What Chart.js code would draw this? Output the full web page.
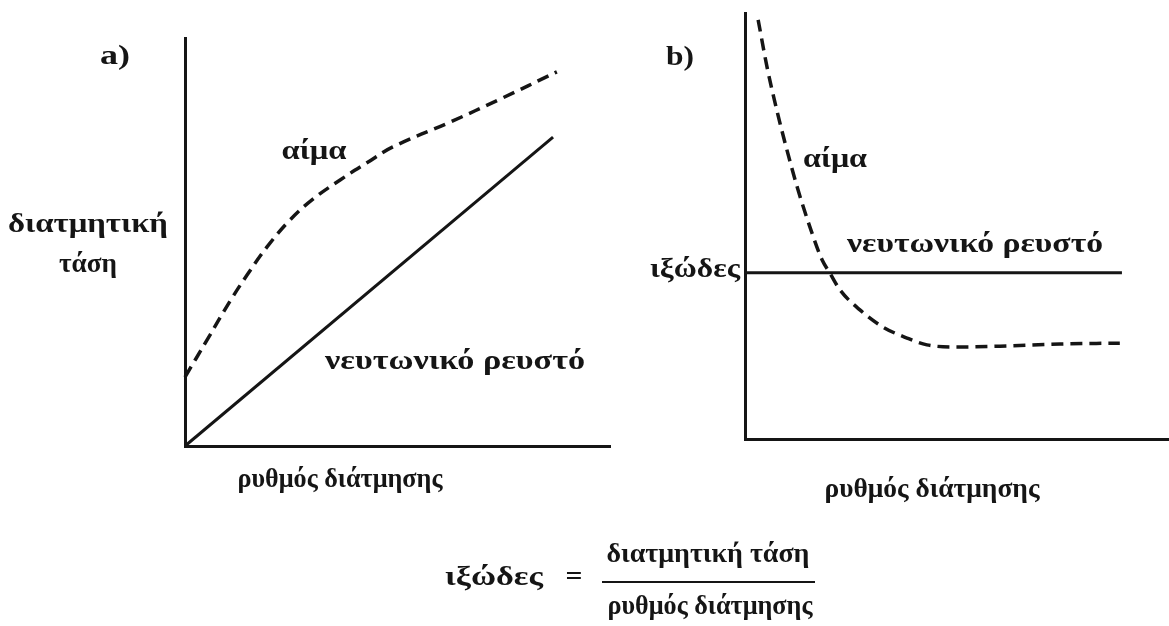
<!DOCTYPE html>
<html>
<head>
<meta charset="utf-8">
<script src="https://cdn.jsdelivr.net/npm/chart.js@4.4.1/dist/chart.umd.min.js"></script>
<style>
  html, body { margin: 0; padding: 0; background: #fff; }
  #wrap { position: relative; width: 1169px; height: 626px; }
  canvas { position: absolute; left: 0; top: 0; }
</style>
</head>
<body>
<div id="wrap">
  <canvas id="chartA" width="1169" height="626"></canvas>
  <canvas id="chartB" width="1169" height="626"></canvas>
</div>
<script>
// a) shear stress against shear rate (axis units 0..100)
const newtonA = [{x: 0, y: 0}, {x: 86.6, y: 75.7}];
const bloodA = [
    {x: 0, y: 16.9}, {x: 5.2, y: 26.0}, {x: 10.6, y: 35.5}, {x: 14.6, y: 41.9},
    {x: 19.3, y: 48.8}, {x: 24.7, y: 55.4}, {x: 30.1, y: 60.5}, {x: 36.5, y: 65.2},
    {x: 42.8, y: 69.4}, {x: 48.9, y: 73.3}, {x: 62.4, y: 79.4}, {x: 74.1, y: 85.0},
    {x: 87.5, y: 91.7}
];

// b) viscosity against shear rate
const newtonB = [{x: 0, y: 39}, {x: 88.9, y: 39}];
const bloodB = [
    {x: 3.1, y: 98.4}, {x: 5.2, y: 87.3}, {x: 7.5, y: 77.2}, {x: 9.9, y: 67.8},
    {x: 12.5, y: 58.5}, {x: 15.3, y: 49.8}, {x: 18.2, y: 42.0}, {x: 20.0, y: 39.0},
    {x: 22.4, y: 35.0}, {x: 27.1, y: 30.3}, {x: 32.5, y: 26.3}, {x: 38.2, y: 23.7},
    {x: 42.9, y: 22.1}, {x: 50.0, y: 21.6}, {x: 60.1, y: 21.8}, {x: 74.3, y: 22.3},
    {x: 88.4, y: 22.5}
];

const txtBlood = 'αίμα';
const txtNewton = 'νευτωνικό ρευστό';
const txtStress1 = 'διατμητική';
const txtStress2 = 'τάση';
const txtRate = 'ρυθμός διάτμησης';
const txtVisc = 'ιξώδες';

const ink = '#151515';

// draws bold serif text centred at cx,cy and stretched to width w
function fitText(ctx, text, cx, cy, w, size) {
    ctx.save();
    ctx.font = 'bold ' + size + 'px "Liberation Serif"';
    const m = ctx.measureText(text).width;
    ctx.translate(cx, cy);
    ctx.scale(w / m, 1);
    ctx.textAlign = 'center';
    ctx.textBaseline = 'middle';
    ctx.fillStyle = ink;
    ctx.fillText(text, 0, 0);
    ctx.restore();
}

function axisOpts() {
    return {
        type: 'linear',
        min: 0,
        max: 100,
        grid: { display: false, drawTicks: false },
        ticks: { display: false },
        border: { display: true, color: ink, width: 3 }
    };
}

function makeChart(id, newton, blood, mode, pad, drawLabels) {
    return new Chart(document.getElementById(id), {
        type: 'line',
        data: {
            datasets: [
                { data: newton, borderColor: ink, borderWidth: 3, pointRadius: 0, fill: false, clip: false },
                { data: blood, borderColor: ink, borderWidth: 3.5, borderDash: [12, 7], pointRadius: 0,
                  tension: 0.4, cubicInterpolationMode: mode, fill: false, clip: false }
            ]
        },
        options: {
            responsive: false,
            animation: false,
            events: [],
            layout: { padding: pad },
            plugins: { legend: { display: false }, tooltip: { enabled: false } },
            scales: { x: axisOpts(), y: axisOpts() }
        },
        plugins: [{ id: 'labels', afterDraw: function (chart) { drawLabels(chart.ctx); } }]
    });
}

makeChart('chartA', newtonA, bloodA, 'default', { left: 185, top: 38, right: 559, bottom: 180 }, function (ctx) {
    fitText(ctx, 'a)', 115, 57, 30, 28);
    fitText(ctx, txtBlood, 314, 152, 65, 28);
    fitText(ctx, txtStress1, 88, 225, 160, 28);
    fitText(ctx, txtStress2, 88, 265, 58, 28);
    fitText(ctx, txtNewton, 455, 362, 260, 28);
    fitText(ctx, txtRate, 340, 480, 205, 28);

    // viscosity = stress / rate
    fitText(ctx, txtVisc, 494, 578, 98, 28);
    fitText(ctx, '=', 574, 578, 17, 28);
    ctx.save();
    ctx.fillStyle = ink;
    ctx.fillRect(602, 581, 213, 2);
    ctx.restore();
    fitText(ctx, txtStress1 + ' ' + txtStress2, 708, 555, 203, 28);
    fitText(ctx, txtRate, 710, 607, 205, 28);
});

makeChart('chartB', newtonB, bloodB, 'monotone', { left: 745, top: 13, right: 0, bottom: 187 }, function (ctx) {
    fitText(ctx, 'b)', 680, 58, 28, 28);
    fitText(ctx, txtBlood, 835, 160, 64, 28);
    fitText(ctx, txtVisc, 695, 270, 90, 28);
    fitText(ctx, txtNewton, 975, 245, 256, 28);
    fitText(ctx, txtRate, 932, 490, 215, 28);
});
</script>
</body>
</html>
